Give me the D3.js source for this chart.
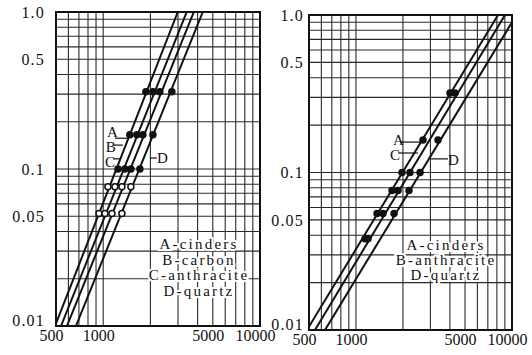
<!DOCTYPE html>
<html>
<head>
<meta charset="utf-8">
<script src="https://cdn.jsdelivr.net/npm/d3@7"></script>
<style>
  body { margin: 0; background: #fff; }
  svg { display: block; }
  text { font-family: "Liberation Serif", "DejaVu Serif", serif; fill: #111; }
</style>
</head>
<body>
<svg id="chart" width="532" height="355"></svg>
<script>
// tick labels shared by both panels
const xTickValues = [500, 1000, 5000, 10000];
const yTickValues = [0.01, 0.05, 0.1, 0.5, 1.0];
const yTickLabels = ["0.01", "0.05", "0.1", "0.5", "1.0"];

// left panel: each line by its two end points [x, y]
const leftNames = ["A", "B", "C", "D"];
const leftLines = [
  [[493, 0.01], [2990, 1.0]],
  [[538, 0.01], [3410, 1.0]],
  [[587, 0.01], [3785, 1.0]],
  [[670, 0.01], [4315, 1.0]]
];
const leftPointY = [0.31, 0.165, 0.1, 0.077, 0.052];
const leftPointX = [
  [1871, 1479, 1242, 1072, 940],
  [2075, 1640, 1375, 1188, 1026],
  [2296, 1791, 1502, 1316, 1137],
  [2740, 2075, 1714, 1502, 1316]
];
const leftLegend = ["A-cinders", "B-carbon", "C-anthracite", "D-quartz"];
// letter, letter x/y, leader x from/to, leader y
const leftNotes = [
  ["A", 1057, 0.160, 1188, 1438, 0.157],
  ["B", 1040, 0.128, 1170, 1336, 0.142],
  ["C", 1026, 0.103, 1154, 1278, 0.116],
  ["D", 2200, 0.109, 1986, 2200, 0.1175]
];

// right panel
const rightNames = ["A", "B", "D"];
const rightLines = [
  [[485, 0.01], [8135, 1.0]],
  [[546, 0.01], [9016, 1.0]],
  [[633, 0.01], [10000, 0.9]]
];
const rightPoints = [
  [[4005, 0.32], [2690, 0.161], [1973, 0.10], [1702, 0.077], [1364, 0.055], [1143, 0.038]],
  [[4315, 0.32], [2218, 0.10], [1860, 0.077], [1490, 0.055], [1194, 0.038]],
  [[3355, 0.161], [2574, 0.10], [2187, 0.077], [1754, 0.055]]
];
const rightLegend = ["A-cinders", "B-anthracite", "D-quartz"];
const rightNotes = [
  ["A", 1727, 0.150, 1915, 2574, 0.156],
  ["C", 1652, 0.120, 1861, 2500, 0.133],
  ["D", 3890, 0.1116, 2984, 3890, 0.122]
];

const svg = d3.select("#chart");

function drawPanel(id, o) {
  const g = svg.append("g");
  const x = d3.scaleLog().domain([500, 10000]).range(o.xr);
  const y = d3.scaleLog().domain([0.01, 1]).range(o.yr);

  g.append("clipPath").attr("id", id)
    .append("rect")
    .attr("x", o.xr[0]).attr("y", o.yr[1])
    .attr("width", o.xr[1] - o.xr[0]).attr("height", o.yr[0] - o.yr[1]);

  // log grid
  g.append("g").selectAll("line").data(x.ticks()).join("line")
    .attr("x1", d => x(d)).attr("x2", d => x(d))
    .attr("y1", o.yr[0]).attr("y2", o.yr[1])
    .attr("stroke", "#2a2a2a").attr("stroke-width", 1.1);
  g.append("g").selectAll("line").data(y.ticks()).join("line")
    .attr("y1", d => y(d)).attr("y2", d => y(d))
    .attr("x1", o.xr[0]).attr("x2", o.xr[1])
    .attr("stroke", "#2a2a2a").attr("stroke-width", 1.1);

  g.append("rect")
    .attr("x", o.xr[0]).attr("y", o.yr[1])
    .attr("width", o.xr[1] - o.xr[0]).attr("height", o.yr[0] - o.yr[1])
    .attr("fill", "none").attr("stroke", "#111").attr("stroke-width", 2);

  const line = d3.line().x(d => x(d[0])).y(d => y(d[1]));
  g.append("g").attr("clip-path", `url(#${id})`)
    .selectAll("path").data(o.lines).join("path")
    .attr("d", line)
    .attr("fill", "none").attr("stroke", "#111").attr("stroke-width", 2);

  // legend, white halo like the blanked grid behind printed text
  const leg = g.append("g").attr("transform", `translate(${o.legX},${o.legY})`);
  leg.selectAll("text").data(o.legend).join("text")
    .attr("x", 0).attr("y", (d, i) => i * o.legStep)
    .attr("text-anchor", "middle")
    .attr("font-size", 15).attr("letter-spacing", 2.2)
    .attr("stroke", "#fff").attr("stroke-width", 4).attr("paint-order", "stroke")
    .text(d => d);

  // letters with short leaders
  const notes = g.append("g");
  notes.selectAll("line").data(o.notes).join("line")
    .attr("x1", d => x(d[3])).attr("x2", d => x(d[4]))
    .attr("y1", d => y(d[5])).attr("y2", d => y(d[5]))
    .attr("stroke", "#111").attr("stroke-width", 1.2);
  notes.selectAll("text").data(o.notes).join("text")
    .attr("x", d => x(d[1])).attr("y", d => y(d[2]))
    .attr("font-size", 15)
    .text(d => d[0]);

  // measured points
  g.append("g").selectAll("circle").data(o.points).join("circle")
    .attr("cx", d => x(d[0])).attr("cy", d => y(d[1]))
    .attr("r", 3)
    .attr("fill", d => (o.openBelow && d[1] < o.openBelow) ? "#fff" : "#111")
    .attr("stroke", "#111").attr("stroke-width", 1.5);

  const ax = g.append("g").attr("transform", `translate(0,${o.yr[0]})`)
    .call(d3.axisBottom(x).tickValues(xTickValues).tickFormat(d3.format("d")).tickSize(0).tickPadding(4));
  ax.select(".domain").remove();
  ax.selectAll("text").attr("font-size", 16).attr("dx", -5).attr("fill", "#111");

  const ay = g.append("g").attr("transform", `translate(${o.xr[0]},0)`)
    .call(d3.axisLeft(y).tickValues(yTickValues).tickFormat((d, i) => yTickLabels[i]).tickSize(0).tickPadding(o.yPad));
  ay.select(".domain").remove();
  ay.selectAll("text").attr("font-size", 16).attr("letter-spacing", 1.2).attr("fill", "#111");
  // bottom label sits a little above its line in the print
  ay.selectAll("text").filter(d => d === 0.01).attr("y", -6);
}

const leftPoints = leftPointX.flatMap(xs => xs.map((v, j) => [v, leftPointY[j]]));

drawPanel("clipL", {
  xr: [56, 260], yr: [326, 12],
  lines: leftLines, points: leftPoints, openBelow: 0.09,
  legend: leftLegend, legX: 199, legY: 249, legStep: 15.5,
  notes: leftNotes, yPad: 11
});

drawPanel("clipR", {
  xr: [309, 512], yr: [330, 15],
  lines: rightLines, points: rightPoints.flat(), openBelow: null,
  legend: rightLegend, legX: 446, legY: 250, legStep: 15,
  notes: rightNotes, yPad: 5
});
</script>
</body>
</html>
